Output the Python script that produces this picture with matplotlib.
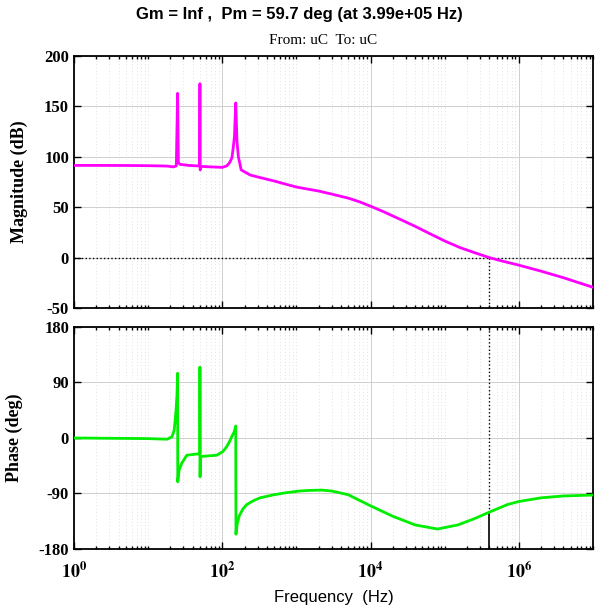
import matplotlib
matplotlib.use("Agg")
import matplotlib.pyplot as plt
import matplotlib.ticker as mticker
import numpy as np

# ---------------------------------------------------------------
# Datos (frecuencia en Hz)
# ---------------------------------------------------------------
f_mag = [1, 5, 10, 18, 22, 24, 25.0, 25.6, 27, 35, 45, 49.5, 50.0, 50.4, 51.5,
         70, 100, 115, 125, 135, 140, 146, 152, 158, 165, 180, 237, 300, 500,
         1000, 2000, 3000, 5000, 7000, 10000, 15000, 25000, 40000, 60000,
         100000, 160000, 250000, 399000, 600000, 1e6, 2e6, 4e6, 1e7]
mag_db = [91.5, 91.4, 91.2, 90.8, 90.0, 91.0, 163.0, 94.0, 92.5, 91.5, 91.0, 91.0,
          172.5, 87.0, 90.5, 90.0, 89.5, 91.0, 94.0, 99.0, 108.0, 120.0, 153.5,
          115.0, 100.0, 87.0, 82.0, 80.0, 76.0, 70.0, 66.0, 63.0, 59.0, 55.5,
          51.0, 45.5, 38.0, 31.0, 24.5, 16.5, 10.0, 5.0, 0.0, -3.5, -7.5, -13.5,
          -20.0, -29.5]

f_ph = [1, 10, 18, 21, 22.5, 23.8, 24.5, 25.0, 25.1, 26.2, 28.4, 33.2, 45.3,
        49.9, 50.0, 50.2, 50.6, 84, 102, 115, 125, 134, 145, 152, 153, 155, 160,
        170, 190, 214, 260, 324, 500, 700, 1100, 1500, 2200, 3000, 5000, 10000,
        20000, 40000, 80000, 150000, 250000, 399000, 700000, 1e6, 2e6, 4e6, 1e7]
phase_deg = [0, -1, -2, 2, 13, 45, 70, 105, -71, -52, -41, -28, -26, -26, 115,
             -63, -30, -28, -22, -14, -6, 2, 10, 19.5, -156, -150, -138, -126,
             -115, -108, -102, -97, -92, -89, -86, -85, -84.5, -86, -92, -110,
             -127, -141, -147.6, -141, -131, -120.3, -108, -103, -97, -94, -92.5]

gm_txt = 'Inf'
pm = 59.7
wc = 3.99e5

xticks = [1, 1e2, 1e4, 1e6]
xticklabels = [r'$\mathbf{10^{0}}$', r'$\mathbf{10^{2}}$', r'$\mathbf{10^{4}}$', r'$\mathbf{10^{6}}$']
mag_ticks = [-50, 0, 50, 100, 150, 200]
ph_ticks = [-180, -90, 0, 90, 180]

# ---------------------------------------------------------------
plt.rcParams['mathtext.fontset'] = 'stix'
serif = 'Liberation Serif'
sans = 'Liberation Sans'

fig = plt.figure(figsize=(5.98, 6.13), dpi=100)
ax1 = fig.add_axes([0.1237, 0.4976, 0.8679, 0.4110])
ax2 = fig.add_axes([0.1237, 0.1044, 0.8679, 0.3622])


def estilo(ax, yticks):
    ax.set_xscale('log')
    ax.set_xlim(1, 1e7)
    ax.set_ylim(yticks[0], yticks[-1])
    ax.set_yticks(yticks)
    ax.set_xticks(xticks)
    ax.xaxis.set_minor_locator(mticker.LogLocator(base=10, subs=np.arange(1, 10), numticks=20))
    ax.xaxis.set_minor_formatter(mticker.NullFormatter())
    ax.grid(which='major', color='#cfcfcf', lw=0.7, ls='-')
    ax.grid(which='minor', axis='x', color='#d8d8d8', lw=0.6, ls=(0, (1, 3)))
    ax.tick_params(which='both', direction='in', top=True, right=True, width=1.0)
    ax.tick_params(which='major', length=5)
    ax.tick_params(which='minor', length=2.5)
    for s in ax.spines.values():
        s.set_linewidth(1.3)
    ax.set_yticklabels([str(t) for t in yticks], fontfamily=serif,
                       fontweight='bold', fontsize=12)


estilo(ax1, mag_ticks)
estilo(ax2, ph_ticks)
ax1.set_xticklabels([])
ax2.set_xticklabels(xticklabels, fontsize=13)
ax2.tick_params(axis='x', pad=9)

# curvas
ax1.plot(f_mag, mag_db, color='#ff00ff', lw=2.0, zorder=3)
ax2.plot(f_ph, phase_deg, color='#00ee00', lw=2.0, zorder=3)

# margenes
ax1.axhline(0, color='k', ls=':', lw=1.0, zorder=2)
ax1.plot([wc, wc], [0, -50], color='k', ls=':', lw=1.0, zorder=2)
ax2.plot([wc, wc], [180, pm - 180], color='k', ls=':', lw=1.0, zorder=2)
ax2.plot([wc, wc], [pm - 180, -180], color='k', ls='-', lw=1.2, zorder=2)

ax1.set_ylabel('Magnitude (dB)', fontfamily=serif, fontweight='bold', fontsize=13)
ax2.set_ylabel('Phase (deg)', fontfamily=serif, fontweight='bold', fontsize=13)
ax1.yaxis.set_label_coords(-0.089, 0.5)
ax2.yaxis.set_label_coords(-0.098, 0.5)
ax2.set_xlabel('Frequency  (Hz)', fontfamily=sans, fontsize=12, labelpad=6)

fig.text(0.5, 0.977, f'Gm = {gm_txt} ,  Pm = {pm} deg (at {wc:.2e} Hz)',
         ha='center', va='center', fontfamily=sans, fontweight='bold', fontsize=12)
fig.text(0.54, 0.934, 'From: uC  To: uC', ha='center', va='center',
         fontfamily=serif, fontsize=11)

fig.savefig('out.png', dpi=100)
plt.close(fig)
